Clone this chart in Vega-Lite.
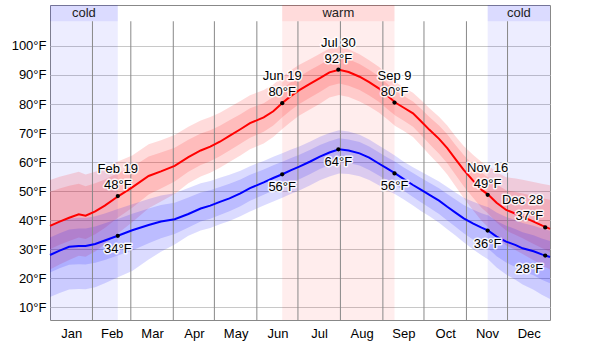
{
  "$schema": "https://vega.github.io/schema/vega-lite/v6.json",
  "width": 500,
  "height": 315,
  "autosize": "none",
  "padding": {"left": 50, "top": 5, "right": 50, "bottom": 24},
  "background": "white",
  "config": {
    "view": {"stroke": "#888888", "strokeWidth": 1},
    "font": "Liberation Sans",
    "text": {"font": "Liberation Sans", "fontSize": 13}
  },
  "datasets": {
    "temps": [
      {"d":0,"hi":38,"hi10":23,"hi25":30,"hi75":49.8,"hi90":53.8,"lo":28,"lo10":13.5,"lo25":22,"lo75":34,"lo90":38},
      {"d":7,"hi":39.5,"hi10":24.7,"hi25":31.5,"hi75":50.9,"hi90":54.9,"lo":29.5,"lo10":14.9,"lo25":23.4,"lo75":35.5,"lo90":39.4},
      {"d":14,"hi":40.8,"hi10":26.3,"hi25":32.8,"hi75":51.8,"hi90":55.8,"lo":30.8,"lo10":16.1,"lo25":24.6,"lo75":36.8,"lo90":40.6},
      {"d":21,"hi":42,"hi10":27.7,"hi25":34,"hi75":52.5,"hi90":56.7,"lo":31.1,"lo10":16.3,"lo25":24.8,"lo75":37.1,"lo90":40.8},
      {"d":26,"hi":41.5,"hi10":27.4,"hi25":33.5,"hi75":51.7,"hi90":55.7,"lo":31.1,"lo10":16.2,"lo25":24.7,"lo75":37.1,"lo90":40.7},
      {"d":33,"hi":43,"hi10":29.2,"hi25":35.1,"hi75":52.7,"hi90":56.7,"lo":31.8,"lo10":16.9,"lo25":25.3,"lo75":37.8,"lo90":41.3},
      {"d":40,"hi":45,"hi10":31.7,"hi25":37.3,"hi75":54,"hi90":58,"lo":33,"lo10":18.3,"lo25":26.3,"lo75":38.9,"lo90":42.3},
      {"d":50,"hi":48.3,"hi10":35.6,"hi25":41,"hi75":56.3,"hi90":60.3,"lo":34.7,"lo10":20.4,"lo25":27.9,"lo75":40.5,"lo90":43.9},
      {"d":60,"hi":51.3,"hi10":39.3,"hi25":44.3,"hi75":58.3,"hi90":62.3,"lo":36.5,"lo10":22.5,"lo25":29.5,"lo75":42.2,"lo90":45.5},
      {"d":72,"hi":55.2,"hi10":44.1,"hi25":48.8,"hi75":61.9,"hi90":66.1,"lo":38.3,"lo10":26.4,"lo25":32,"lo75":44,"lo90":47.3},
      {"d":81,"hi":56.8,"hi10":46.4,"hi25":50.9,"hi75":63.3,"hi90":67.5,"lo":39.5,"lo10":29.1,"lo25":33.8,"lo75":45.2,"lo90":48.5},
      {"d":91,"hi":58.7,"hi10":49,"hi25":53.3,"hi75":64.9,"hi90":69.3,"lo":40.3,"lo10":31.6,"lo25":35.2,"lo75":46,"lo90":49.3},
      {"d":101,"hi":61.7,"hi10":52.7,"hi25":56.7,"hi75":67.7,"hi90":72.2,"lo":42.1,"lo10":34.6,"lo25":37.5,"lo75":47.8,"lo90":51.1},
      {"d":110,"hi":64,"hi10":55,"hi25":59,"hi75":69.8,"hi90":74.3,"lo":44,"lo10":36.4,"lo25":39.5,"lo75":49.5,"lo90":52.7},
      {"d":117,"hi":65.3,"hi10":56.3,"hi25":60.3,"hi75":71,"hi90":75.5,"lo":45,"lo10":37.3,"lo25":40.5,"lo75":50.3,"lo90":53.5},
      {"d":124,"hi":67,"hi10":58,"hi25":62,"hi75":72.5,"hi90":77,"lo":46.3,"lo10":38.6,"lo25":41.8,"lo75":51.4,"lo90":54.6},
      {"d":131,"hi":69,"hi10":60,"hi25":64,"hi75":74.4,"hi90":78.9,"lo":47.5,"lo10":39.7,"lo25":43.1,"lo75":52.5,"lo90":55.6},
      {"d":139,"hi":71.3,"hi10":62.3,"hi25":66.3,"hi75":76.5,"hi90":81,"lo":49.2,"lo10":41.3,"lo25":44.8,"lo75":54,"lo90":57},
      {"d":146,"hi":73.4,"hi10":64.4,"hi25":68.4,"hi75":78.5,"hi90":83,"lo":51,"lo10":43,"lo25":46.7,"lo75":55.6,"lo90":58.6},
      {"d":156,"hi":75.4,"hi10":66.4,"hi25":70.4,"hi75":80.3,"hi90":84.8,"lo":53,"lo10":45,"lo25":48.7,"lo75":57.4,"lo90":60.4},
      {"d":163,"hi":77.5,"hi10":68.6,"hi25":72.6,"hi75":82.4,"hi90":86.7,"lo":54.5,"lo10":46.4,"lo25":50.2,"lo75":58.9,"lo90":61.8},
      {"d":170,"hi":80.5,"hi10":71.6,"hi25":75.6,"hi75":85.3,"hi90":89.5,"lo":55.9,"lo10":47.8,"lo25":51.6,"lo75":60.2,"lo90":63.1},
      {"d":176,"hi":82.8,"hi10":73.9,"hi25":77.9,"hi75":87.6,"hi90":91.7,"lo":57.2,"lo10":49.1,"lo25":52.9,"lo75":61.4,"lo90":64.3},
      {"d":182,"hi":84.8,"hi10":76,"hi25":80,"hi75":89.5,"hi90":93.5,"lo":58.4,"lo10":50.2,"lo25":54.1,"lo75":62.5,"lo90":65.4},
      {"d":190,"hi":87,"hi10":78.2,"hi25":82.2,"hi75":91.7,"hi90":95.5,"lo":60.2,"lo10":52,"lo25":55.9,"lo75":64.2,"lo90":67.1},
      {"d":197,"hi":88.9,"hi10":80.1,"hi25":84.1,"hi75":93.5,"hi90":97.3,"lo":61.9,"lo10":53.7,"lo25":57.6,"lo75":65.9,"lo90":68.7},
      {"d":204,"hi":90.9,"hi10":82.2,"hi25":86.2,"hi75":95.5,"hi90":99.1,"lo":63.3,"lo10":55,"lo25":59,"lo75":67.2,"lo90":70},
      {"d":211,"hi":91.8,"hi10":83.1,"hi25":87.1,"hi75":96.3,"hi90":99.8,"lo":64.4,"lo10":56.1,"lo25":60.1,"lo75":68.2,"lo90":71},
      {"d":218,"hi":91,"hi10":82.4,"hi25":86.3,"hi75":95.4,"hi90":98.9,"lo":64,"lo10":55.9,"lo25":59.7,"lo75":67.8,"lo90":70.5},
      {"d":226,"hi":89.4,"hi10":80.9,"hi25":84.8,"hi75":93.8,"hi90":97.1,"lo":63,"lo10":55.1,"lo25":58.8,"lo75":66.9,"lo90":69.4},
      {"d":233,"hi":87.5,"hi10":79.1,"hi25":82.9,"hi75":91.8,"hi90":95.1,"lo":61.5,"lo10":53.8,"lo25":57.3,"lo75":65.4,"lo90":67.8},
      {"d":240,"hi":85.4,"hi10":77.1,"hi25":80.8,"hi75":89.6,"hi90":92.8,"lo":59.5,"lo10":52,"lo25":55.4,"lo75":63.4,"lo90":65.7},
      {"d":246,"hi":83,"hi10":74.8,"hi25":78.4,"hi75":87.1,"hi90":90.3,"lo":57.8,"lo10":50.4,"lo25":53.7,"lo75":61.7,"lo90":64},
      {"d":252,"hi":80.5,"hi10":72.4,"hi25":76,"hi75":84.6,"hi90":87.7,"lo":56.1,"lo10":48.9,"lo25":52.1,"lo75":60.1,"lo90":62.2},
      {"d":258,"hi":78.8,"hi10":70.8,"hi25":74.3,"hi75":82.8,"hi90":85.8,"lo":54.2,"lo10":47.2,"lo25":50.2,"lo75":58.2,"lo90":60.2},
      {"d":265,"hi":76.8,"hi10":68.6,"hi25":72.2,"hi75":80.9,"hi90":83.9,"lo":52.1,"lo10":45,"lo25":48,"lo75":56.2,"lo90":58.2},
      {"d":271,"hi":74,"hi10":65.6,"hi25":69.2,"hi75":78.3,"hi90":81.3,"lo":50.4,"lo10":43.1,"lo25":46.1,"lo75":54.5,"lo90":56.7},
      {"d":277,"hi":71.1,"hi10":62.5,"hi25":66.2,"hi75":75.5,"hi90":78.5,"lo":48.7,"lo10":41.3,"lo25":44.3,"lo75":52.9,"lo90":55.1},
      {"d":284,"hi":68,"hi10":59.1,"hi25":62.9,"hi75":72.6,"hi90":75.6,"lo":46.7,"lo10":39.1,"lo25":42.1,"lo75":51,"lo90":53.3},
      {"d":290,"hi":64.8,"hi10":55.7,"hi25":59.6,"hi75":69.6,"hi90":72.6,"lo":44.6,"lo10":36.9,"lo25":39.9,"lo75":49,"lo90":51.4},
      {"d":296,"hi":61,"hi10":51.7,"hi25":55.6,"hi75":65.9,"hi90":68.9,"lo":42.6,"lo10":34.7,"lo25":37.7,"lo75":47.1,"lo90":49.5},
      {"d":302,"hi":57.3,"hi10":47.6,"hi25":51.7,"hi75":62.4,"hi90":65.5,"lo":40.6,"lo10":32.4,"lo25":35.5,"lo75":45.2,"lo90":47.7},
      {"d":309,"hi":53.5,"hi10":43.3,"hi25":47.6,"hi75":59,"hi90":62.4,"lo":38.8,"lo10":29.9,"lo25":33.2,"lo75":43.6,"lo90":46.3},
      {"d":315,"hi":50.5,"hi10":39.8,"hi25":44.3,"hi75":56.3,"hi90":60,"lo":37.4,"lo10":27.9,"lo25":31.4,"lo75":42.4,"lo90":45.2},
      {"d":320,"hi":48.7,"hi10":37.5,"hi25":42.2,"hi75":54.7,"hi90":58.7,"lo":36.4,"lo10":26.4,"lo25":30.1,"lo75":41.6,"lo90":44.4},
      {"d":326,"hi":46,"hi10":34.3,"hi25":39.2,"hi75":52.3,"hi90":56.6,"lo":34.3,"lo10":23.7,"lo25":27.6,"lo75":39.7,"lo90":42.6},
      {"d":333,"hi":43.5,"hi10":31.3,"hi25":36.4,"hi75":50.3,"hi90":54.8,"lo":32.6,"lo10":21.3,"lo25":25.4,"lo75":38.1,"lo90":41.1},
      {"d":340,"hi":42.2,"hi10":29.6,"hi25":34.9,"hi75":49.7,"hi90":54.3,"lo":31.4,"lo10":19.4,"lo25":23.8,"lo75":36.9,"lo90":40},
      {"d":345,"hi":41.2,"hi10":28.3,"hi25":33.8,"hi75":49.2,"hi90":53.9,"lo":30.3,"lo10":17.8,"lo25":22.4,"lo75":35.8,"lo90":39},
      {"d":353,"hi":39.5,"hi10":26.2,"hi25":31.8,"hi75":48.3,"hi90":53.1,"lo":29.3,"lo10":16,"lo25":21,"lo75":34.8,"lo90":38.1},
      {"d":359,"hi":38.2,"hi10":24.5,"hi25":30.4,"hi75":47.6,"hi90":52.5,"lo":28.2,"lo10":14.3,"lo25":19.5,"lo75":33.7,"lo90":37.1},
      {"d":365,"hi":37,"hi10":23,"hi25":29,"hi75":47,"hi90":52,"lo":27.3,"lo10":12.8,"lo25":18.3,"lo75":32.8,"lo90":36.3}
    ],
    "regions": [
      {"start":0,"end":49.5,"mid":24.75,"kind":"cold"},
      {"start":169.5,"end":251.5,"mid":210.5,"kind":"warm"},
      {"start":319.5,"end":365,"mid":342.25,"kind":"cold"}
    ],
    "months": [
      {"d":31},{"d":59},{"d":90},{"d":120},{"d":151},{"d":181},{"d":212},{"d":243},{"d":273},{"d":304},{"d":334}
    ],
    "keys": [
      {"d":49.5,"series":"hi","t":48.3,"label":"Feb 19\n48°F"},
      {"d":169.5,"series":"hi","t":80.3,"label":"Jun 19\n80°F"},
      {"d":210.5,"series":"hi","t":91.8,"label":"Jul 30\n92°F"},
      {"d":251.5,"series":"hi","t":80.5,"label":"Sep 9\n80°F"},
      {"d":319.5,"series":"hi","t":48.7,"label":"Nov 16\n49°F"},
      {"d":361.5,"series":"hi","t":37.5,"label":"Dec 28\n37°F"},
      {"d":49.5,"series":"lo","t":34.6,"label":"34°F"},
      {"d":169.5,"series":"lo","t":55.8,"label":"56°F"},
      {"d":210.5,"series":"lo","t":64.4,"label":"64°F"},
      {"d":251.5,"series":"lo","t":56.1,"label":"56°F"},
      {"d":319.5,"series":"lo","t":36.4,"label":"36°F"},
      {"d":361.5,"series":"lo","t":27.8,"label":"28°F"}
    ]
  },
  "layer": [
    {
      "data": {"name": "temps"},
      "mark": {"type": "area", "color": "#ff0000", "opacity": 0},
      "encoding": {
        "x": {"field": "d", "type": "quantitative", "scale": {"domain": [0, 365], "nice": false, "zero": false},
          "axis": {"title": null, "values": [15.5, 45, 74.5, 105, 135.5, 166, 196.5, 227.5, 258, 288.5, 319, 349.5], "tickCount": 30,
            "labelExpr": "['Jan','Feb','Mar','Apr','May','Jun','Jul','Aug','Sep','Oct','Nov','Dec'][floor(datum.value/30.42)]",
            "grid": false, "ticks": false, "domain": false, "labelPadding": 7, "labelFontSize": 13, "labelColor": "#000000", "labelFont": "Liberation Sans", "labelOverlap": false, "labelBound": false}},
        "y": {"field": "hi10", "type": "quantitative", "scale": {"domain": [5.6, 114.1], "nice": false, "zero": false},
          "axis": {"title": null, "values": [10, 20, 30, 40, 50, 60, 70, 80, 90, 100], "tickCount": 30, "labelExpr": "datum.value + '°F'",
            "grid": true, "gridColor": "#c8c8c8", "ticks": false, "domain": false, "labelPadding": 4, "labelFontSize": 13, "labelColor": "#000000", "labelFont": "Liberation Sans", "labelOverlap": false, "labelBound": false}},
        "y2": {"field": "hi90"}
      }
    },
    {
      "data": {"name": "regions"},
      "mark": {"type": "rect", "opacity": 0.07},
      "encoding": {
        "x": {"field": "start", "type": "quantitative", "title": null},
        "x2": {"field": "end"},
        "y": {"datum": 5.6, "type": "quantitative", "title": null},
        "y2": {"datum": 108.5},
        "color": {"field": "kind", "type": "nominal", "scale": {"domain": ["cold", "warm"], "range": ["#0000ff", "#ff0000"]}, "legend": null}
      }
    },
    {
      "data": {"name": "regions"},
      "mark": {"type": "rect", "opacity": 0.14},
      "encoding": {
        "x": {"field": "start", "type": "quantitative", "title": null},
        "x2": {"field": "end"},
        "y": {"datum": 108.5, "type": "quantitative", "title": null},
        "y2": {"datum": 114.1},
        "color": {"field": "kind", "type": "nominal", "scale": {"domain": ["cold", "warm"], "range": ["#0000ff", "#ff0000"]}, "legend": null}
      }
    },
    {
      "data": {"name": "temps"},
      "mark": {"type": "area", "color": "#ff0000", "opacity": 0.14},
      "encoding": {
        "x": {"field": "d", "type": "quantitative", "title": null},
        "y": {"field": "hi10", "type": "quantitative", "title": null},
        "y2": {"field": "hi90"}
      }
    },
    {
      "data": {"name": "temps"},
      "mark": {"type": "area", "color": "#ff0000", "opacity": 0.14},
      "encoding": {
        "x": {"field": "d", "type": "quantitative", "title": null},
        "y": {"field": "hi25", "type": "quantitative", "title": null},
        "y2": {"field": "hi75"}
      }
    },
    {
      "data": {"name": "temps"},
      "mark": {"type": "area", "color": "#0000ff", "opacity": 0.14},
      "encoding": {
        "x": {"field": "d", "type": "quantitative", "title": null},
        "y": {"field": "lo10", "type": "quantitative", "title": null},
        "y2": {"field": "lo90"}
      }
    },
    {
      "data": {"name": "temps"},
      "mark": {"type": "area", "color": "#0000ff", "opacity": 0.14},
      "encoding": {
        "x": {"field": "d", "type": "quantitative", "title": null},
        "y": {"field": "lo25", "type": "quantitative", "title": null},
        "y2": {"field": "lo75"}
      }
    },
    {
      "data": {"name": "months"},
      "mark": {"type": "rule", "color": "#888888", "strokeWidth": 1},
      "encoding": {
        "x": {"field": "d", "type": "quantitative", "title": null},
        "y": {"datum": 5.6, "type": "quantitative", "title": null},
        "y2": {"datum": 108.5}
      }
    },
    {
      "mark": {"type": "rule", "color": "#888888", "strokeWidth": 1},
      "encoding": {"y": {"datum": 32, "type": "quantitative", "title": null}}
    },
    {
      "mark": {"type": "rule", "color": "#888888", "strokeWidth": 1},
      "encoding": {"y": {"datum": 108.5, "type": "quantitative", "title": null}}
    },
    {
      "data": {"name": "temps"},
      "mark": {"type": "line", "color": "#ff0000", "strokeWidth": 2},
      "encoding": {
        "x": {"field": "d", "type": "quantitative", "title": null},
        "y": {"field": "hi", "type": "quantitative", "title": null}
      }
    },
    {
      "data": {"name": "temps"},
      "mark": {"type": "line", "color": "#0000ff", "strokeWidth": 2},
      "encoding": {
        "x": {"field": "d", "type": "quantitative", "title": null},
        "y": {"field": "lo", "type": "quantitative", "title": null}
      }
    },
    {
      "data": {"name": "keys"},
      "mark": {"type": "circle", "color": "#000000", "opacity": 1, "size": 18},
      "encoding": {
        "x": {"field": "d", "type": "quantitative", "title": null},
        "y": {"field": "t", "type": "quantitative", "title": null}
      }
    },
    {
      "data": {"name": "keys"},
      "transform": [{"filter": "datum.series == 'hi'"}],
      "mark": {"type": "text", "fontSize": 13, "lineBreak": "\n", "lineHeight": 16, "baseline": "bottom", "dy": -20,
        "color": "white", "stroke": "white", "strokeWidth": 3, "strokeOpacity": 0.85, "strokeJoin": "round",
        "align": {"expr": "datum.d > 355 ? 'right' : 'center'"}, "dx": {"expr": "datum.d > 355 ? -2 : 0"}},
      "encoding": {
        "x": {"field": "d", "type": "quantitative", "title": null},
        "y": {"field": "t", "type": "quantitative", "title": null},
        "text": {"field": "label"}
      }
    },
    {
      "data": {"name": "keys"},
      "transform": [{"filter": "datum.series == 'hi'"}],
      "mark": {"type": "text", "fontSize": 13, "lineBreak": "\n", "lineHeight": 16, "baseline": "bottom", "dy": -20, "color": "#000000",
        "align": {"expr": "datum.d > 355 ? 'right' : 'center'"}, "dx": {"expr": "datum.d > 355 ? -2 : 0"}},
      "encoding": {
        "x": {"field": "d", "type": "quantitative", "title": null},
        "y": {"field": "t", "type": "quantitative", "title": null},
        "text": {"field": "label"}
      }
    },
    {
      "data": {"name": "keys"},
      "transform": [{"filter": "datum.series == 'lo'"}],
      "mark": {"type": "text", "fontSize": 13, "baseline": "top", "dy": 7,
        "color": "white", "stroke": "white", "strokeWidth": 3, "strokeOpacity": 0.85, "strokeJoin": "round",
        "align": {"expr": "datum.d > 355 ? 'right' : 'center'"}, "dx": {"expr": "datum.d > 355 ? -2 : 0"}},
      "encoding": {
        "x": {"field": "d", "type": "quantitative", "title": null},
        "y": {"field": "t", "type": "quantitative", "title": null},
        "text": {"field": "label"}
      }
    },
    {
      "data": {"name": "keys"},
      "transform": [{"filter": "datum.series == 'lo'"}],
      "mark": {"type": "text", "fontSize": 13, "baseline": "top", "dy": 7, "color": "#000000",
        "align": {"expr": "datum.d > 355 ? 'right' : 'center'"}, "dx": {"expr": "datum.d > 355 ? -2 : 0"}},
      "encoding": {
        "x": {"field": "d", "type": "quantitative", "title": null},
        "y": {"field": "t", "type": "quantitative", "title": null},
        "text": {"field": "label"}
      }
    },
    {
      "data": {"name": "regions"},
      "mark": {"type": "text", "fontSize": 13, "baseline": "middle", "align": "center", "color": "#222222"},
      "encoding": {
        "x": {"field": "mid", "type": "quantitative", "title": null},
        "y": {"datum": 111.3, "type": "quantitative", "title": null},
        "text": {"field": "kind"}
      }
    }
  ]
}
